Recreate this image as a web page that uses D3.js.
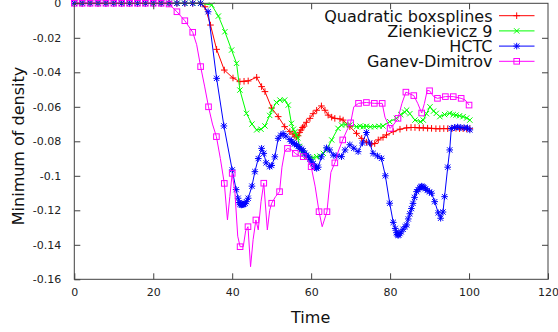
<!DOCTYPE html>
<html><head><meta charset="utf-8">
<script src="https://cdn.jsdelivr.net/npm/d3@7"></script>
<style>
html,body{margin:0;padding:0;background:#fff;}
svg{display:block;font-family:"DejaVu Sans",sans-serif;}
</style></head>
<body>
<svg id="c" width="558" height="332"></svg>
<script>
// ---- data ----
const xTicks = [0, 20, 40, 60, 80, 100, 120];
const yTicks = [0, -0.02, -0.04, -0.06, -0.08, -0.1, -0.12, -0.14, -0.16];
const yTickLabels = ["0", "-0.02", "-0.04", "-0.06", "-0.08", "-0.1", "-0.12", "-0.14", "-0.16"];
const seriesNames = ["Quadratic boxsplines", "Zienkievicz 9", "HCTC", "Ganev-Dimitrov"];

const flatRed = [0,2,4,6,8,10,12,14,16,18,20,22,24,26,28,30,32];
const quadratic = [[0,0],[2,0],[4,0],[6,0],[8,0],[10,0],[12,0],[14,0],[16,0],[18,0],[20,0],[22,0],[24,0],[26,0],[28,0],[30,0],[32,0],
 [33.1,-0.002],[34.5,-0.0126],[36.05,-0.0267],[38.0,-0.0387],[40.2,-0.0433],[41.95,-0.0454],[43.0,-0.0452],[44.05,-0.045],[46.2,-0.0429],
 [47.45,-0.0483],[48.3,-0.0512],[50.0,-0.0607],[51.65,-0.0657],[53.3,-0.0715],[54.6,-0.0744],[55.4,-0.0758],[55.9,-0.077],[56.3,-0.0775],
 [56.7,-0.0768],[57.1,-0.0748],[57.4,-0.0735],[57.8,-0.072],[58.2,-0.0712],[58.8,-0.069],[59.7,-0.0667],[60.5,-0.064],[61.4,-0.062],
 [62.6,-0.0595],[63.5,-0.062],[64.3,-0.0648],[65.2,-0.066],[66.0,-0.0667],[67.3,-0.067],[68.1,-0.0677],[69.8,-0.0715],[71.5,-0.0754],
 [72.8,-0.0783],[74.0,-0.0805],[75.3,-0.0816],[76.1,-0.0813],[77.0,-0.0792],[78.2,-0.0777],[79.1,-0.0763],[80.8,-0.0744],[82.5,-0.073],
 [84.2,-0.0722],[85.3,-0.072],[86.3,-0.072],[87.4,-0.0722],[88.4,-0.0722],[89.5,-0.0724],[90.5,-0.0725],[91.6,-0.0727],[92.6,-0.0727],
 [93.6,-0.0726],[94.6,-0.0727],[95.7,-0.0726],[96.7,-0.0725],[97.6,-0.0727],[98.5,-0.0727],[99.4,-0.0728],[100.2,-0.0727]];

const zienkiewicz = [[0,0],[2,0],[4,0],[6,0],[8,0],[10,0],[12,0],[14,0],[16,0],[18,0],[20,0],[22,0],[24,0],[26,0],[28,0],[30,0],[32,0],
 [34.8,-0.001],[36.5,-0.0074],[38.15,-0.0165],[39.85,-0.0271],[41.1,-0.0348],[41.95,-0.0503],[43.6,-0.0638],[45.0,-0.07],[46.2,-0.0734],
 [47.3,-0.073],[48.3,-0.0711],[49.5,-0.065],[50.0,-0.0619],[51.2,-0.0575],[52.1,-0.0561],[53.3,-0.0561],[54.2,-0.059],[55.0,-0.0696],
 [55.5,-0.073],[55.9,-0.0745],[56.3,-0.0765],[56.6,-0.078],[57.1,-0.083],[57.6,-0.0855],[58.0,-0.087],[58.8,-0.0889],[59.7,-0.0898],
 [60.5,-0.0895],[61.4,-0.0889],[62.2,-0.0885],[63.1,-0.087],[63.9,-0.085],[65.2,-0.0792],[66.8,-0.0725],[67.7,-0.0706],[68.8,-0.0703],
 [69.8,-0.0706],[71.5,-0.0715],[72.4,-0.0712],[73.2,-0.0715],[74.0,-0.0713],[75.0,-0.0716],[76.1,-0.0715],[77.2,-0.0713],[78.2,-0.0711],
 [79.9,-0.0686],[81.6,-0.0667],[82.7,-0.0645],[83.7,-0.0631],[84.2,-0.0619],[85.0,-0.064],[86.3,-0.0677],[87.7,-0.0686],[88.4,-0.0677],
 [89.2,-0.064],[90.1,-0.0600],[91.0,-0.0625],[91.7,-0.0638],[92.6,-0.0657],[93.8,-0.0645],[95.1,-0.0638],[96.0,-0.0645],[96.7,-0.0648],
 [97.6,-0.0652],[98.5,-0.0657],[99.4,-0.0665],[100.2,-0.0677]];

const hctc = [[0,0],[2,0],[4,0],[6,0],[8,0],[10,0],[12,0],[14,0],[16,0],[18,0],[20,0],[22,0],[24,0],[26,0],[28,0],[30,0],[32,0],
 [33.9,-0.0049],[36.05,-0.0435],[37.9,-0.0711],[40.0,-0.0966],[41.0,-0.108],[41.5,-0.113],[41.8,-0.1155],[42.0,-0.1163],[42.2,-0.1168],
 [42.4,-0.1169],[42.6,-0.1167],[42.8,-0.1165],[43.0,-0.1163],[43.3,-0.116],[43.6,-0.115],[44.05,-0.113],[45.0,-0.106],[45.75,-0.0976],
 [46.6,-0.09],[47.45,-0.0841],[48.0,-0.087],[48.6,-0.0925],[49.5,-0.0947],[50.0,-0.094],[50.8,-0.089],[51.65,-0.0783],[52.3,-0.0765],
 [52.9,-0.0755],[53.6,-0.077],[54.6,-0.079],[55.0,-0.08],[55.4,-0.081],[55.8,-0.0815],[56.3,-0.082],[56.7,-0.083],[57.1,-0.084],
 [57.6,-0.0845],[58.0,-0.0855],[58.4,-0.087],[58.8,-0.088],[59.3,-0.089],[59.7,-0.0905],[60.1,-0.092],[60.5,-0.093],[60.9,-0.0945],
 [61.2,-0.0952],[61.4,-0.0957],[61.8,-0.095],[62.6,-0.089],[63.9,-0.0838],[64.7,-0.085],[65.6,-0.088],[66.5,-0.0885],[67.7,-0.0889],
 [68.6,-0.085],[69.8,-0.082],[70.8,-0.084],[71.9,-0.086],[73.0,-0.081],[74.0,-0.0749],[74.8,-0.081],[75.7,-0.087],[76.8,-0.0885],
 [77.8,-0.0899],[78.8,-0.1],[79.9,-0.1159],[80.8,-0.127],[81.3,-0.1305],[81.6,-0.133],[81.8,-0.134],[82.0,-0.1345],[82.2,-0.1343],
 [82.5,-0.1335],[82.8,-0.1325],[83.3,-0.131],[83.8,-0.1295],[84.2,-0.1285],[84.6,-0.125],[85.0,-0.122],[85.4,-0.119],[85.8,-0.116],
 [86.2,-0.1125],[86.7,-0.1092],[87.1,-0.108],[87.5,-0.107],[87.8,-0.1065],[88.0,-0.106],[88.3,-0.1064],[88.6,-0.1068],[89.0,-0.1075],
 [89.4,-0.1085],[90.0,-0.1093],[90.5,-0.1101],[91.3,-0.115],[92.2,-0.1215],[92.8,-0.1246],[93.4,-0.121],[93.8,-0.1121],[94.6,-0.095],
 [95.1,-0.085],[95.5,-0.0725],[96.3,-0.072],[97.1,-0.0717],[97.9,-0.072],[98.8,-0.0722],[99.6,-0.0722],[100.2,-0.0734]];

const ganev = [[0,0],[2,0],[4,0],[6,0],[8,0],[10,0],[12,0],[14,0],[16,0],[18,0],[20,0],[22,0],[23.6,0],[24,-0.0004],
 [26,-0.0049],[28,-0.0101],[30,-0.0168],[31,-0.024],[32,-0.0367],[33,-0.048],[34,-0.06],[35,-0.07],[36,-0.0773],[37,-0.09],
 [38,-0.1044],[38.8,-0.1256],[39.4,-0.112],[40,-0.0986],[40.7,-0.11],[41.4,-0.135],[42,-0.1411],[42.8,-0.1411],[43.4,-0.132],
 [44,-0.1295],[44.65,-0.1527],[45.3,-0.137],[46,-0.1256],[46.6,-0.1314],[47.3,-0.115],[48,-0.1043],[48.9,-0.1314],[49.5,-0.12],
 [50,-0.1159],[51,-0.112],[52,-0.1092],[52.6,-0.095],[53.3,-0.086],[54,-0.0841],[55,-0.085],[56,-0.087],[57,-0.0885],[58,-0.0889],
 [59,-0.0905],[60,-0.0947],[61,-0.106],[62,-0.1208],[62.8,-0.1295],[64,-0.1208],[65,-0.098],[66,-0.0925],[67,-0.085],[68,-0.0792],
 [69,-0.074],[70,-0.0693],[70.8,-0.06],[72,-0.058],[74,-0.0575],[76,-0.058],[78,-0.058],[78.7,-0.066],[80,-0.0725],[81,-0.070],
 [82,-0.0667],[83,-0.058],[84,-0.0515],[86,-0.0535],[87,-0.058],[88,-0.0636],[88.7,-0.058],[89.4,-0.0505],[90,-0.0507],[91,-0.054],
 [92,-0.0551],[94,-0.0541],[96,-0.0541],[98,-0.0551],[99,-0.056],[100,-0.059]];

const seriesData = [quadratic, zienkiewicz, hctc, ganev];
const colors = ["#ff0000", "#00ff00", "#0000ff", "#ff00ff"];
const markerTypes = ["plus", "cross", "star", "square"];

// ---- layout ----
const svg = d3.select("#c");
const x = d3.scaleLinear().domain([0, 120]).range([74.3, 548]);
const y = d3.scaleLinear().domain([-0.16, 0]).range([279.3, 3.3]);
const axisColor = "#404040";

// series
const line = d3.line().x(d => x(d[0])).y(d => y(d[1]));
function drawMarker(g, type, cx, cy, col) {
  const s = 3.3;
  if (type === "plus" || type === "star") {
    g.append("path").attr("d", `M${cx-s},${cy}H${cx+s}M${cx},${cy-s}V${cy+s}`).attr("stroke", col).attr("fill","none").attr("stroke-width",1);
  }
  if (type === "cross" || type === "star") {
    const t = s*0.8;
    g.append("path").attr("d", `M${cx-t},${cy-t}L${cx+t},${cy+t}M${cx-t},${cy+t}L${cx+t},${cy-t}`).attr("stroke", col).attr("fill","none").attr("stroke-width",1);
  }
  if (type === "square") {
    g.append("rect").attr("x", cx-2.8).attr("y", cy-2.8).attr("width",5.6).attr("height",5.6).attr("stroke", col).attr("fill","none").attr("stroke-width",1);
  }
}
seriesData.forEach((data, i) => {
  const g = svg.append("g");
  g.append("path").datum(data).attr("d", line).attr("fill","none").attr("stroke", colors[i]).attr("stroke-width",1);
  data.forEach(d => {
    const isMark = markerTypes[i] === "square" ? Math.abs(d[0] - Math.round(d[0]/2)*2) < 1e-9 : true;
    if (isMark) drawMarker(g, markerTypes[i], x(d[0]), y(d[1]), colors[i]);
  });
});

// border & ticks
const x0 = x(0), x1 = x(120), y0 = y(-0.16), y1 = y(0);
svg.append("rect").attr("x", x0).attr("y", y1).attr("width", x1-x0).attr("height", y0-y1)
  .attr("fill","none").attr("stroke", axisColor).attr("stroke-width",1);
const tickLen = 6;
const xAxisB = d3.axisBottom(x).tickValues(xTicks).tickSizeInner(-tickLen).tickSizeOuter(0).tickPadding(12).tickFormat(d3.format("d"));
const gxb = svg.append("g").attr("transform", `translate(0,${y0})`).call(xAxisB);
const xAxisT = d3.axisTop(x).tickValues(xTicks.slice(1,-1)).tickSizeInner(-tickLen).tickSizeOuter(0).tickFormat("");
const gxt = svg.append("g").attr("transform", `translate(0,${y1})`).call(xAxisT);
const yAxisL = d3.axisLeft(y).tickValues(yTicks).tickSizeInner(-tickLen).tickSizeOuter(0).tickPadding(13).tickFormat((d,i) => yTickLabels[i]);
const gyl = svg.append("g").attr("transform", `translate(${x0},0)`).call(yAxisL);
const yAxisR = d3.axisRight(y).tickValues(yTicks.slice(1,-1)).tickSizeInner(-tickLen).tickSizeOuter(0).tickFormat("");
const gyr = svg.append("g").attr("transform", `translate(${x1},0)`).call(yAxisR);
[gxb, gxt, gyl, gyr].forEach(g => {
  g.select(".domain").remove();
  g.selectAll(".tick line").attr("stroke", axisColor);
  g.selectAll(".tick text").attr("fill", "#222").attr("font-size", 11).attr("font-family", "DejaVu Sans, sans-serif");
});
gxb.selectAll(".tick text").attr("dy", "0.71em").attr("y", 9);

// axis titles
svg.append("text").attr("x", x(60)-0.5).attr("y", 323).attr("text-anchor","middle")
  .attr("font-size", 16).attr("fill","#111").text("Time");
svg.append("text").attr("transform", `translate(24,146) rotate(-90)`).attr("text-anchor","middle")
  .attr("font-size", 16).attr("fill","#111").text("Minimum of density");

// legend
const legY = [15.7, 30.9, 46.1, 61.3];
seriesNames.forEach((name, i) => {
  const ly = legY[i];
  svg.append("text").attr("x", 492.5).attr("y", ly + 6).attr("text-anchor","end")
    .attr("font-size", 16).attr("fill","#111").text(name);
  svg.append("line").attr("x1", 499).attr("x2", 534.5).attr("y1", ly).attr("y2", ly)
    .attr("stroke", colors[i]).attr("stroke-width", 1);
  drawMarker(svg.append("g"), markerTypes[i], 516.7, ly, colors[i]);
});
</script>
</body></html>
